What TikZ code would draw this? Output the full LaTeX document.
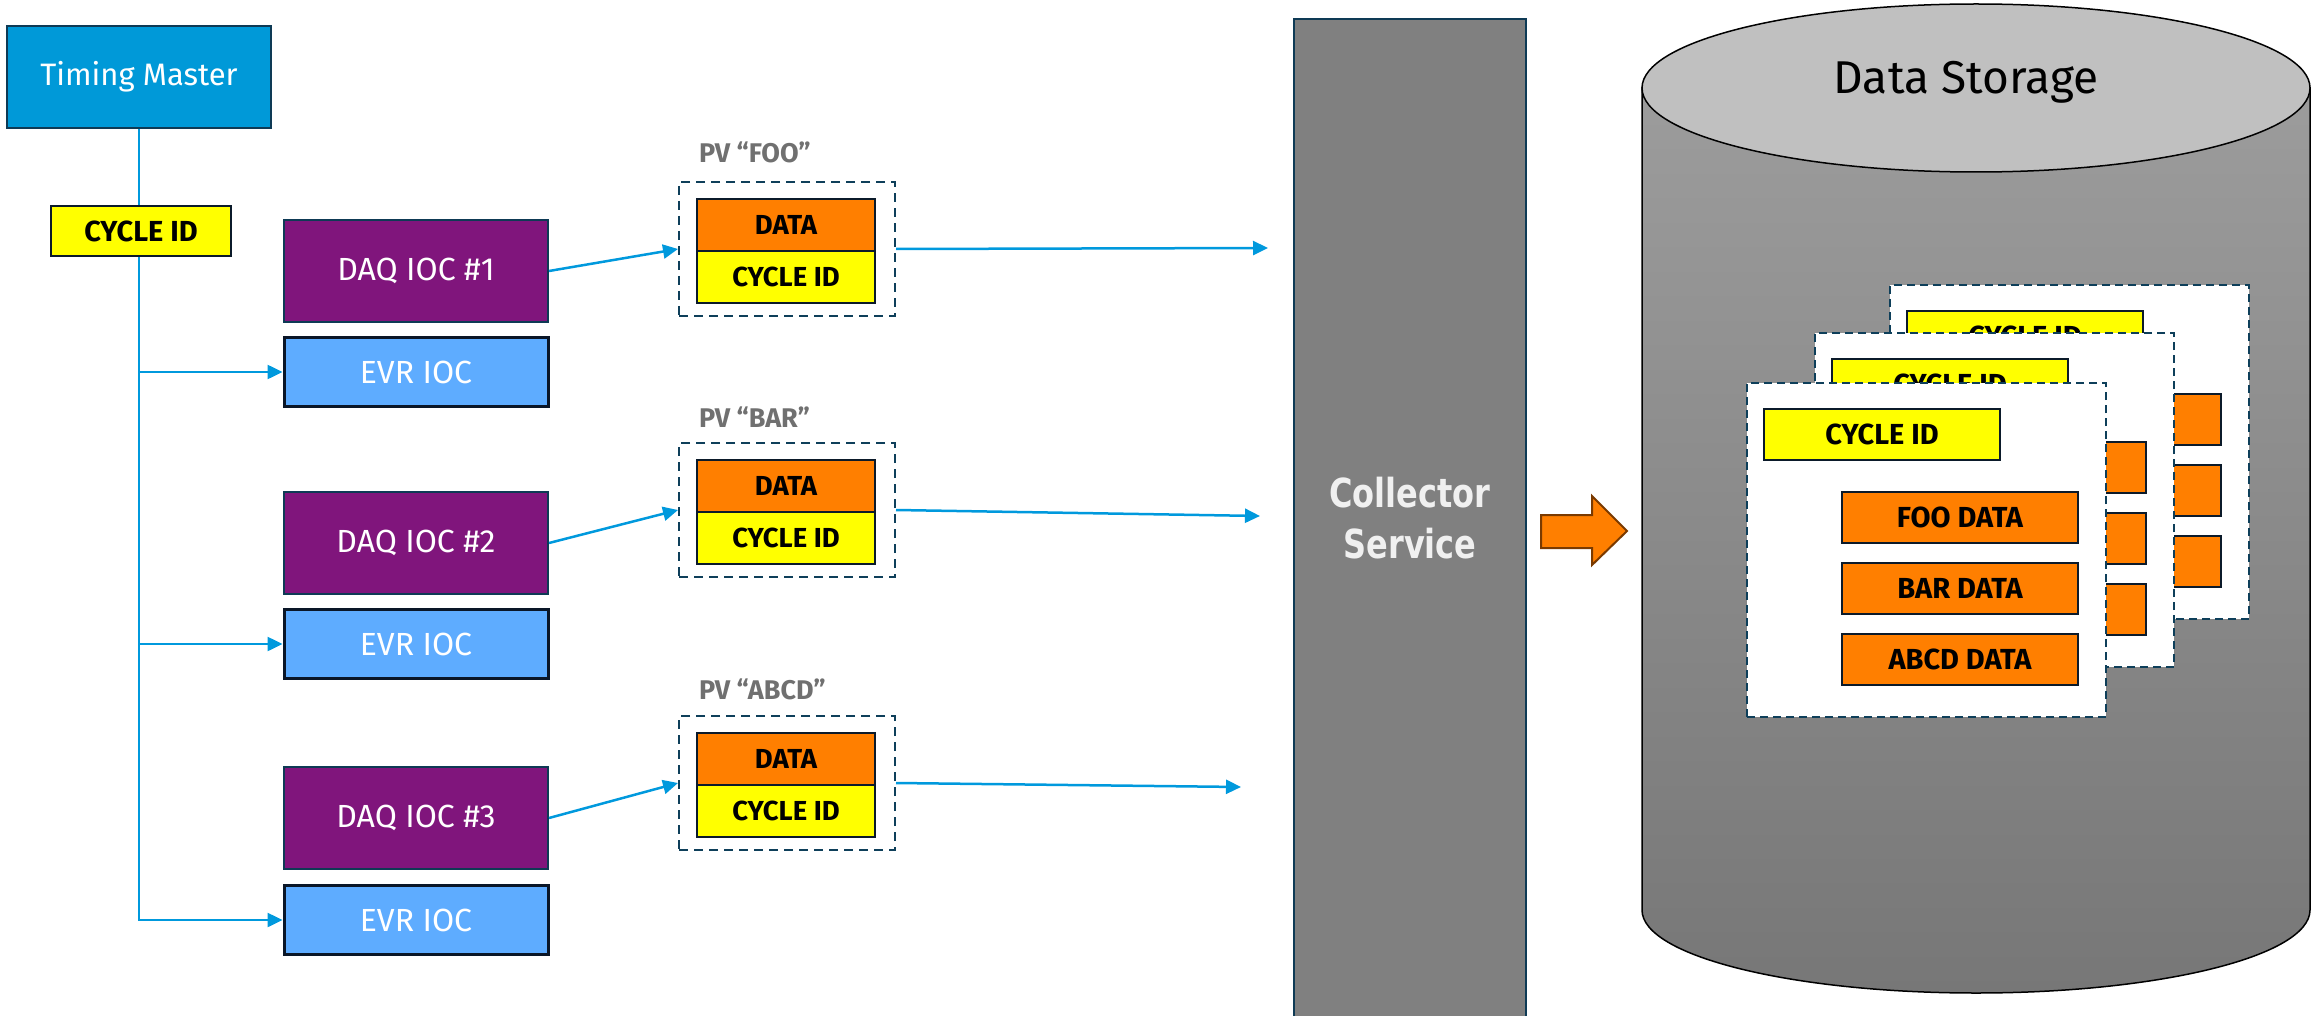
\documentclass[tikz,border=0pt]{standalone}
\usepackage{fontspec}
\setmainfont{Fira Sans}
\newfontfamily\collfont{DejaVu Sans}[FakeStretch=0.8]
\usetikzlibrary{arrows.meta}

\definecolor{tmblue}{HTML}{0099D8}
\definecolor{evrblue}{HTML}{5EACFF}
\definecolor{daqpurple}{HTML}{80157C}
\definecolor{navyline}{HTML}{0E3A55}
\definecolor{evrline}{HTML}{0A1628}
\definecolor{tagline}{HTML}{0B1A2A}
\definecolor{tagyellow}{HTML}{FFFF00}
\definecolor{dataorange}{HTML}{FF7F00}
\definecolor{dashnavy}{HTML}{0E3F5A}
\definecolor{linkblue}{HTML}{0099DD}
\definecolor{pvgray}{HTML}{707070}
\definecolor{collgray}{HTML}{808080}
\definecolor{colltext}{HTML}{F0F0F0}
\definecolor{cyltop}{HTML}{C0C0C0}
\definecolor{cylupper}{HTML}{9C9C9C}
\definecolor{cyllower}{HTML}{777777}
\definecolor{arrowedge}{HTML}{7A3A00}

\begin{document}
\begin{tikzpicture}[x=1pt,y=-1pt,
  box/.style={draw=navyline, line width=2pt, inner sep=0pt, text=white,
    font=\fontsize{32}{38}\selectfont},
  tmbox/.style={box, fill=tmblue, minimum width=264pt, minimum height=102pt,
    font=\fontsize{31}{37}\selectfont},
  daqbox/.style={box, fill=daqpurple, minimum width=264pt, minimum height=102pt},
  evrbox/.style={box, draw=evrline, line width=3pt, fill=evrblue,
    minimum width=264pt, minimum height=69pt},
  tagbox/.style={draw=tagline, line width=2.5pt, fill=tagyellow, inner sep=0pt,
    font=\bfseries\fontsize{29}{34}\selectfont},
  pvframe/.style={draw=dashnavy, line width=2pt, dash pattern=on 9pt off 6pt,
    minimum width=216pt, minimum height=134pt, inner sep=0pt},
  pvcell/.style={draw=tagline, line width=2.5pt, minimum width=178pt,
    minimum height=52pt, inner sep=0pt, font=\bfseries\fontsize{27.5}{32}\selectfont},
  datacell/.style={pvcell, fill=dataorange},
  idcell/.style={pvcell, fill=tagyellow},
  pvlabel/.style={text=pvgray, font=\bfseries\fontsize{27}{32}\selectfont,
    inner sep=0pt, anchor=base west},
  link/.style={draw=linkblue, line width=2.5pt, -{Triangle[length=15pt,width=14pt]}},
  cardframe/.style={draw=dashnavy, line width=2pt, dash pattern=on 8pt off 5pt,
    fill=white, inner sep=0pt, minimum width=359pt, minimum height=334pt,
    anchor=north west},
  cardcell/.style={draw=tagline, line width=2pt, inner sep=0pt, minimum width=236pt,
    minimum height=51pt, anchor=north west,
    font=\bfseries\fontsize{29}{34}\selectfont},
  datacard/.pic={
    \node[cardframe] (-frame) at (0,0) {};
    \node[cardcell, fill=tagyellow] (-cid) at (17,26) {CYCLE ID};
    \node[cardcell, fill=dataorange] (-foo) at (95,109) {FOO DATA};
    \node[cardcell, fill=dataorange] (-bar) at (95,180) {BAR DATA};
    \node[cardcell, fill=dataorange] (-abcd) at (95,251) {ABCD DATA};
  }
]
\useasboundingbox (0,0) rectangle (2318,1016);

% timing distribution
\node[tmbox] (tm) at (139,77) {Timing Master};

\node[daqbox] (daq1) at (416,271) {DAQ IOC \#1};
\node[evrbox] (evr1) at (416,372) {EVR IOC};
\node[daqbox] (daq2) at (416,543) {DAQ IOC \#2};
\node[evrbox] (evr2) at (416,644) {EVR IOC};
\node[daqbox] (daq3) at (416,818) {DAQ IOC \#3};
\node[evrbox] (evr3) at (416,920) {EVR IOC};

\draw[link] (tm.south) |- (evr3.west);
\draw[link] (tm.south |- evr1.west) -- (evr1.west);
\draw[link] (tm.south |- evr2.west) -- (evr2.west);

\node[tagbox, minimum width=180pt, minimum height=50pt] (cid) at (141,231) {CYCLE ID};

% process variables
\node[pvframe] (pv1) at (787,249) {};
\node[datacell] (pv1data) at (786,225) {DATA};
\node[idcell] (pv1id) at (786,277) {CYCLE ID};
\node[pvlabel] (pv1name) at (699,163) {PV “FOO”};

\node[pvframe] (pv2) at (787,510) {};
\node[datacell] (pv2data) at (786,486) {DATA};
\node[idcell] (pv2id) at (786,538) {CYCLE ID};
\node[pvlabel] (pv2name) at (699,427) {PV “BAR”};

\node[pvframe] (pv3) at (787,783) {};
\node[datacell] (pv3data) at (786,759) {DATA};
\node[idcell] (pv3id) at (786,811) {CYCLE ID};
\node[pvlabel] (pv3name) at (699,699) {PV “ABCD”};

\draw[link] (daq1.east) -- (pv1.west);
\draw[link] (daq2.east) -- (pv2.west);
\draw[link] (daq3.east) -- (pv3.west);

\coordinate (in1) at (1268,248);
\coordinate (in2) at (1260,516);
\coordinate (in3) at (1241,787);
\draw[link] (pv1.east) -- (in1);
\draw[link] (pv2.east) -- (in2);
\draw[link] (pv3.east) -- (in3);

% collector
\node[draw=navyline, line width=2pt, fill=collgray, minimum width=232pt,
  minimum height=998pt, inner sep=0pt, text=colltext, align=center,
  font=\collfont\bfseries\fontsize{40}{51}\selectfont]
  (coll) at (1410,518) {Collector\\Service};

% transfer arrow
\draw[fill=dataorange, draw=arrowedge, line width=2pt, line join=miter]
  (1541,515) -- (1592,515) -- (1592,496) -- (1627,531) -- (1592,565)
  -- (1592,548) -- (1541,548) -- cycle;

% storage cylinder
\shade[top color=cylupper, bottom color=cyllower, draw=black, line width=1.5pt]
  (2310,88) -- (1642,88) -- (1642,910)
  .. controls (1642,956) and (1792,993) .. (1976,993)
  .. controls (2160,993) and (2310,956) .. (2310,910) -- cycle;
\draw[fill=cyltop, draw=black, line width=1.5pt]
  (1976,88) ellipse [x radius=334, y radius=84];
\node[font=\fontsize{46}{54}\selectfont, inner sep=0pt] (storage) at (1966,82) {Data Storage};

% stacked records
\pic (back) at (1889,284) {datacard};
\pic (middle) at (1814,332) {datacard};
\pic (front) at (1746,382) {datacard};
\end{tikzpicture}
\end{document}
